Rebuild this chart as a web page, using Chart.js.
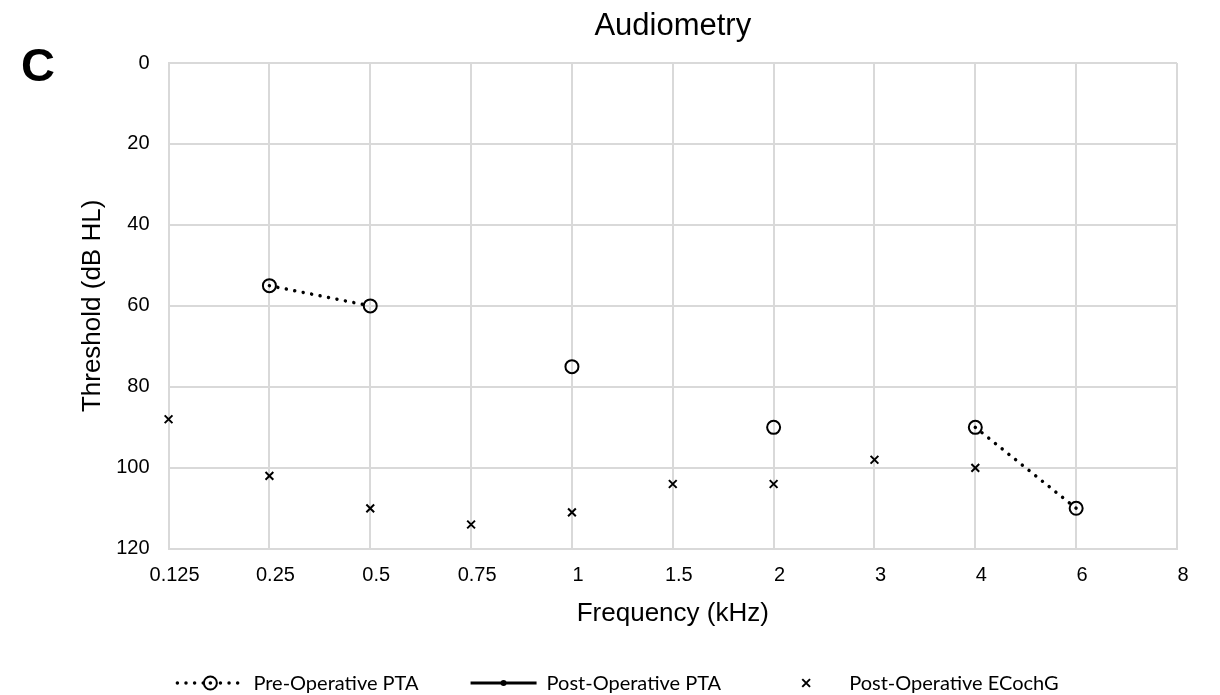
<!DOCTYPE html>
<html>
<head>
<meta charset="utf-8">
<script src="https://cdn.jsdelivr.net/npm/chart.js@4.4.1/dist/chart.umd.min.js"></script>
<style>
  html, body { margin: 0; padding: 0; background: #fff; }
  #wrap { position: relative; width: 1220px; height: 695px; }
</style>
</head>
<body>
<div id="wrap"><canvas id="myChart"></canvas></div>
<script>
const freqLabels = ['0.125', '0.25', '0.5', '0.75', '1', '1.5', '2', '3', '4', '6', '8'];
const preOpPTA = [null, 55, 60, null, 75, null, 90, null, 90, 110, null];
const postOpPTA = [null, null, null, null, null, null, null, null, null, null, null];
const postOpECochG = [88, 102, 110, 114, 111, 104, 104, 98, 100, null, null];
const thresholdTicks = [0, 20, 40, 60, 80, 100, 120];

const FONT = "'Liberation Sans', Arial, sans-serif";
const GRID = '#d9d9d9';

// panel letter + chart title (title is centred on the plot area, like Excel)
const headings = {
  id: 'headings',
  afterDraw(chart, args, opts) {
    const ctx = chart.ctx;
    const area = chart.chartArea;
    ctx.save();
    ctx.fillStyle = '#000';
    ctx.font = "bold 47px " + FONT;
    ctx.textBaseline = 'alphabetic';
    ctx.textAlign = 'left';
    ctx.fillText(opts.panel, 21, 81);
    ctx.font = "31px " + FONT;
    ctx.textBaseline = 'middle';
    ctx.textAlign = 'center';
    ctx.fillText(opts.title, (area.left + area.right) / 2, 26);
    ctx.restore();
  }
};

// Excel style legend: line + marker keys in one row under the chart
function drawKey(ctx, ds, x, y, w) {
  const cx = x + w / 2;
  ctx.strokeStyle = '#000';
  ctx.fillStyle = '#000';
  if (ds.showLine !== false) {
    ctx.beginPath();
    ctx.lineWidth = ds.borderWidth;
    ctx.lineCap = ds.borderCapStyle || 'butt';
    ctx.setLineDash(ds.borderDash || []);
    ctx.moveTo(x, y);
    ctx.lineTo(x + w, y);
    ctx.stroke();
    ctx.setLineDash([]);
  }
  const r = ds.pointRadius;
  ctx.lineWidth = ds.pointBorderWidth;
  ctx.lineCap = 'butt';
  if (ds.pointStyle === 'crossRot') {
    const d = r * Math.SQRT1_2;
    ctx.beginPath();
    ctx.moveTo(cx - d, y - d); ctx.lineTo(cx + d, y + d);
    ctx.moveTo(cx - d, y + d); ctx.lineTo(cx + d, y - d);
    ctx.stroke();
  } else if (ds.pointBackgroundColor === '#000') {
    ctx.beginPath();
    ctx.arc(cx, y, r, 0, Math.PI * 2);
    ctx.fill();
  } else {
    ctx.beginPath();
    ctx.fillStyle = '#fff';
    ctx.arc(cx, y, r, 0, Math.PI * 2);
    ctx.fill();
    ctx.stroke();
    ctx.beginPath();
    ctx.fillStyle = '#000';
    ctx.arc(cx, y, 1.8, 0, Math.PI * 2);
    ctx.fill();
  }
}

const rowLegend = {
  id: 'rowLegend',
  afterDraw(chart, args, opts) {
    const ctx = chart.ctx;
    ctx.save();
    ctx.font = opts.font;
    const keyW = 66, textGap = 10, itemGap = 52;
    const items = chart.data.datasets.map(ds => ({ ds, tw: ctx.measureText(ds.label).width }));
    const total = items.reduce((s, it) => s + keyW + textGap + it.tw, 0) + itemGap * (items.length - 1);
    let x = chart.width / 2 - total / 2 + opts.shift;
    const y = opts.y;
    items.forEach(it => {
      drawKey(ctx, it.ds, x, y, keyW);
      ctx.fillStyle = '#000';
      ctx.textBaseline = 'middle';
      ctx.textAlign = 'left';
      ctx.fillText(it.ds.label, x + keyW + textGap, y + 1);
      x += keyW + textGap + it.tw + itemGap;
    });
    ctx.restore();
  }
};

const ctx = document.getElementById('myChart').getContext('2d');

const chart = new Chart(ctx, {
    type: 'line',
    data: {
        labels: freqLabels,
        datasets: [{
            label: 'Pre-Operative PTA',
            data: preOpPTA,
            borderColor: '#000',
            borderWidth: 3.5,
            borderDash: [0.01, 8.6],
            borderCapStyle: 'round',
            pointStyle: 'circle',
            pointRadius: 6.5,
            pointBorderWidth: 2,
            pointBorderColor: '#000',
            pointBackgroundColor: 'rgba(0,0,0,0)',
            spanGaps: false
        }, {
            label: 'Post-Operative PTA',
            data: postOpPTA,
            borderColor: '#000',
            borderWidth: 3,
            pointStyle: 'circle',
            pointRadius: 3,
            pointBorderWidth: 1,
            pointBackgroundColor: '#000'
        }, {
            label: 'Post-Operative ECochG',
            data: postOpECochG,
            showLine: false,
            borderColor: '#000',
            pointStyle: 'crossRot',
            pointRadius: 5.5,
            pointBorderWidth: 2,
            pointBorderColor: '#000'
        }]
    },
    options: {
        responsive: true,
        maintainAspectRatio: false,
        animation: false,
        layout: { padding: { left: 60, right: 43, top: 63, bottom: 66 } },
        plugins: {
            legend: { display: false },
            tooltip: { enabled: false },
            title: { display: false },
            headings: { panel: 'C', title: 'Audiometry' },
            rowLegend: { font: "20px Lato, 'Open Sans', sans-serif", y: 683, shift: 8 }
        },
        scales: {
            x: {
                type: 'category',
                offset: false,
                grid: { color: GRID, lineWidth: 2, drawTicks: false },
                border: { color: GRID, width: 2 },
                ticks: { color: '#000', font: { family: FONT, size: 20 }, padding: 15, labelOffset: 6, maxRotation: 0, autoSkip: false },
                title: { display: true, text: 'Frequency (kHz)', color: '#000', font: { family: FONT, size: 26 }, padding: { top: -5, bottom: 0 } }
            },
            y: {
                reverse: true,
                min: thresholdTicks[0],
                max: thresholdTicks[thresholdTicks.length - 1],
                grid: { color: GRID, lineWidth: 2, drawTicks: false },
                border: { color: GRID, width: 2 },
                ticks: { color: '#000', font: { family: FONT, size: 20 }, padding: 19, stepSize: thresholdTicks[1] - thresholdTicks[0] },
                title: { display: true, text: 'Threshold (dB HL)', color: '#000', font: { family: FONT, size: 26 }, padding: { top: 17, bottom: -11 } }
            }
        }
    },
    plugins: [headings, rowLegend]
});
</script>
</body>
</html>
